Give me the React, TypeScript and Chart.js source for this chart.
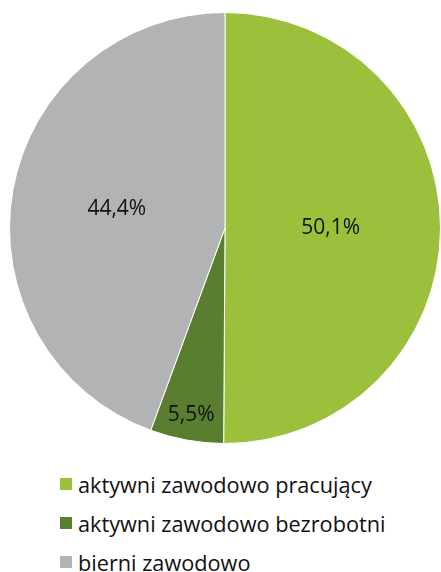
import React, { useEffect, useRef } from "react";
import { Chart, registerables } from "chart.js";

Chart.register(...registerables);

const categories = [
  "aktywni zawodowo pracujący",
  "aktywni zawodowo bezrobotni",
  "bierni zawodowo",
];
const values = [50.1, 5.5, 44.4];
const valueLabels = ["50,1%", "5,5%", "44,4%"];
const colors = ["#9BC13C", "#5A7E2F", "#B2B3B5"];
const labelRadiusFactors = [0.49, 0.88, 0.51];

const FONT = "'Open Sans', 'DejaVu Sans', sans-serif";

const sliceLabelPlugin = {
  id: "sliceLabels",
  afterDatasetsDraw(chart: any) {
    const ctx = chart.ctx;
    const meta = chart.getDatasetMeta(0);
    ctx.save();
    ctx.fillStyle = "#111111";
    ctx.font = `21px ${FONT}`;
    ctx.textAlign = "center";
    ctx.textBaseline = "middle";
    meta.data.forEach((arc: any, i: number) => {
      const { x, y, startAngle, endAngle, outerRadius } = arc.getProps(
        ["x", "y", "startAngle", "endAngle", "outerRadius"],
        true
      );
      const mid = (startAngle + endAngle) / 2;
      const r = outerRadius * labelRadiusFactors[i];
      ctx.fillText(valueLabels[i], x + Math.cos(mid) * r, y + Math.sin(mid) * r);
    });
    ctx.restore();
  },
};

export default function App() {
  const canvasRef = useRef<HTMLCanvasElement | null>(null);

  useEffect(() => {
    if (!canvasRef.current) return;
    const chart = new Chart(canvasRef.current, {
      type: "pie",
      data: {
        labels: categories,
        datasets: [
          {
            data: values,
            backgroundColor: colors,
            borderColor: "#ffffff",
            borderWidth: 1,
          },
        ],
      },
      options: {
        animation: false,
        responsive: false,
        maintainAspectRatio: false,
        layout: { padding: { left: 9, right: 0, top: 12, bottom: 12 } },
        plugins: {
          legend: { display: false },
          tooltip: { enabled: false },
        },
      },
      plugins: [sliceLabelPlugin],
    });
    return () => chart.destroy();
  }, []);

  return (
    <div
      style={{
        position: "absolute",
        left: 0,
        top: 0,
        width: 441,
        height: 572,
        background: "#ffffff",
        overflow: "hidden",
      }}
    >
      <canvas
        ref={canvasRef}
        width={441}
        height={456}
        style={{ position: "absolute", left: 0, top: 0, width: 441, height: 456 }}
      />
      {categories.map((c, i) => (
        <div
          key={c}
          style={{
            position: "absolute",
            left: 60,
            top: 471 + i * 39,
            height: 26,
            display: "flex",
            alignItems: "center",
            fontFamily: FONT,
            fontSize: 21.7,
            color: "#111111",
            whiteSpace: "nowrap",
          }}
        >
          <span
            style={{
              display: "inline-block",
              width: 12,
              height: 12,
              background: colors[i],
              marginRight: 6,
            }}
          />
          <span>{c}</span>
        </div>
      ))}
    </div>
  );
}
